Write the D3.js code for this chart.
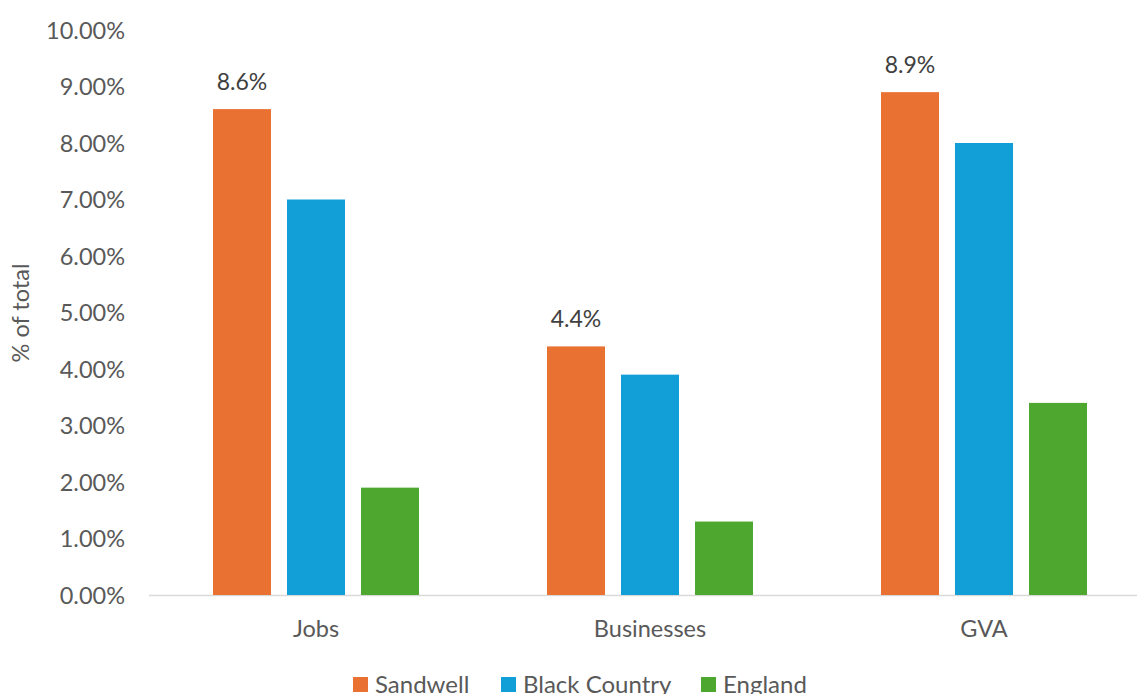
<!DOCTYPE html>
<html>
<head>
<meta charset="utf-8">
<script src="https://cdn.jsdelivr.net/npm/d3@7"></script>
<style>
  html, body { margin: 0; padding: 0; background: #fff; overflow: hidden; }
  svg { display: block; font-family: Lato, "Open Sans", sans-serif; }
</style>
</head>
<body>
<svg id="chart" width="1137" height="694"></svg>
<script>
// Share of total, by measure
const categories = ["Jobs", "Businesses", "GVA"];
const seriesNames = ["Sandwell", "Black Country", "England"];
const sandwell = [0.086, 0.044, 0.089];
const blackCountry = [0.070, 0.039, 0.080];
const england = [0.019, 0.013, 0.034];
const yTicks = [0, 0.01, 0.02, 0.03, 0.04, 0.05, 0.06, 0.07, 0.08, 0.09, 0.10];
const labelledSeries = "Sandwell";

const colors = { "Sandwell": "#E97132", "Black Country": "#129FD7", "England": "#4EA72E" };
const seriesValues = { "Sandwell": sandwell, "Black Country": blackCountry, "England": england };

const svg = d3.select("#chart");
const textColor = "#595959";
const fontSize = "23.5px";

const y = d3.scaleLinear().domain([0, 0.10]).range([595, 30]);
const x0 = d3.scaleBand().domain(categories).range([149, 1151]);
const groupWidth = 222;
const x1 = d3.scaleBand().domain(seriesNames).range([0, groupWidth])
  .paddingInner(16 / 74).paddingOuter(8 / 74);

// y axis tick labels (no line)
const yAxis = d3.axisLeft(y).tickValues(yTicks).tickFormat(d3.format(".2%")).tickSize(0).tickPadding(0);
const gy = svg.append("g").attr("transform", "translate(125,0)").call(yAxis);
gy.select(".domain").remove();
gy.selectAll("text")
  .attr("fill", textColor)
  .attr("dy", "0.35em")
  .style("font-size", fontSize)
  .style("font-family", "Lato, sans-serif");

// baseline
svg.append("line")
  .attr("x1", 149).attr("x2", 1137)
  .attr("y1", y(0) + 0.5).attr("y2", y(0) + 0.5)
  .attr("stroke", "#D9D9D9").attr("stroke-width", 1.5);

// bars
const groups = svg.append("g").selectAll("g")
  .data(categories)
  .join("g")
  .attr("transform", d => `translate(${x0(d) + (x0.bandwidth() - groupWidth) / 2},0)`);

groups.selectAll("rect")
  .data((c, i) => seriesNames.map(s => ({ s, v: seriesValues[s][i] })))
  .join("rect")
  .attr("x", d => x1(d.s))
  .attr("width", x1.bandwidth())
  .attr("y", d => y(d.v))
  .attr("height", d => y(0) - y(d.v))
  .attr("fill", d => colors[d.s]);

// value labels for Sandwell
groups.selectAll("text.val")
  .data((c, i) => [{ s: labelledSeries, v: seriesValues[labelledSeries][i] }])
  .join("text")
  .attr("class", "val")
  .attr("x", d => x1(d.s) + x1.bandwidth() / 2)
  .attr("y", d => y(d.v) - 19)
  .attr("text-anchor", "middle")
  .attr("fill", "#404040")
  .style("font-size", "23px")
  .text(d => d3.format(".1%")(d.v));

// category labels
svg.append("g").selectAll("text")
  .data(categories)
  .join("text")
  .attr("x", d => x0(d) + x0.bandwidth() / 2)
  .attr("y", 637)
  .attr("text-anchor", "middle")
  .attr("fill", textColor)
  .style("font-size", fontSize)
  .text(d => d);

// y axis title
svg.append("text")
  .attr("transform", "translate(29,313) rotate(-90)")
  .attr("text-anchor", "middle")
  .attr("fill", textColor)
  .style("font-size", fontSize)
  .text("% of total");

// legend
const legendX = [353, 501, 701];
const legend = svg.append("g").selectAll("g")
  .data(seriesNames)
  .join("g")
  .attr("transform", (d, i) => `translate(${legendX[i]},677)`);
legend.append("rect")
  .attr("width", 15).attr("height", 15)
  .attr("fill", d => colors[d]);
legend.append("text")
  .attr("x", 22).attr("y", 16)
  .attr("fill", textColor)
  .style("font-size", "24px")
  .text(d => d);
</script>
</body>
</html>
